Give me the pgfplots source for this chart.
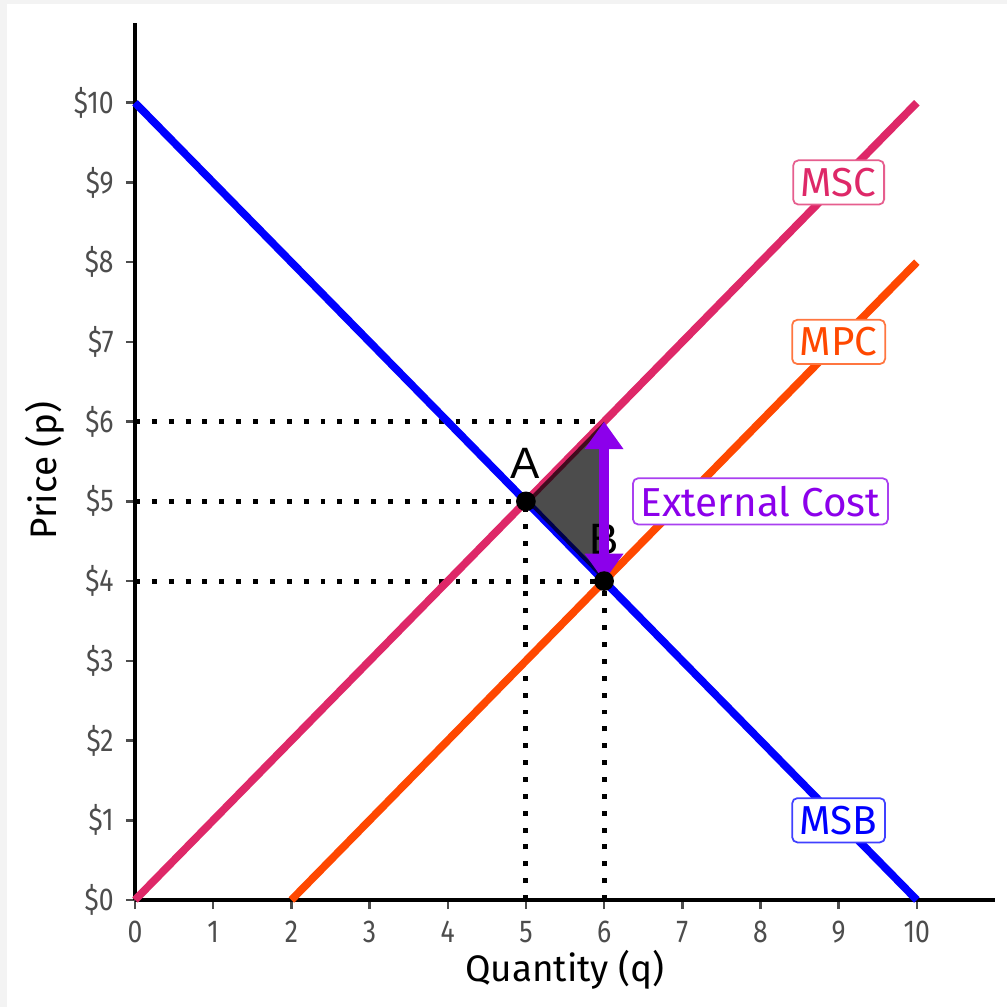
\documentclass[border=0pt]{standalone}
\usepackage{pgfplots}
\pgfplotsset{compat=1.18}
\usepackage{fontspec}
\setmainfont{Fira Sans}
\newfontfamily\condfont[FakeStretch=0.84]{Fira Sans}
\newfontfamily\labfont{Liberation Sans}
\usetikzlibrary{arrows.meta}
\definecolor{msc}{RGB}{222,40,104}
\definecolor{mpc}{RGB}{255,72,0}
\definecolor{msb}{RGB}{0,0,255}
\definecolor{ext}{RGB}{140,0,235}
\definecolor{tickgray}{RGB}{77,77,77}
\definecolor{frame}{RGB}{243,243,243}
\begin{document}
\begin{tikzpicture}
\useasboundingbox (0,0) rectangle (10.07cm,10.07cm);
\fill[frame] (0,0) rectangle (10.07cm,10.07cm);
\fill[white] (0.07cm,0) rectangle (10.07cm,10.03cm);
\begin{axis}[
  at={(1.35cm,1.07cm)}, anchor=south west,
  scale only axis, width=8.60cm, height=8.77cm,
  xmin=0, xmax=11, ymin=0, ymax=11,
  axis x line=bottom, axis y line=left,
  axis line style={-, black, line width=0.95pt},
  xtick={0,...,10}, ytick={0,...,10},
  xticklabels={0,1,2,3,4,5,6,7,8,9,10},
  yticklabels={\$0,\$1,\$2,\$3,\$4,\$5,\$6,\$7,\$8,\$9,\$10},
  tick align=outside, major tick length=0.09cm,
  tick style={tickgray, line width=0.7pt},
  every tick label/.append style={font=\condfont\fontsize{9}{10}\selectfont, text=tickgray},
  xticklabel style={yshift=0.0cm},
  yticklabel style={xshift=0.0cm},
  xlabel={Quantity (q)}, ylabel={Price (p)},
  label style={font=\fontsize{10.5}{12}\selectfont},
  xlabel style={at={(axis description cs:0.5,-0.08)}, anchor=center},
  ylabel style={at={(axis description cs:-0.105,0.49)}, anchor=center},
  clip=false,
]
% dotted guide lines
\addplot[black, line width=1.4pt, dash pattern=on 1.4pt off 3.4pt] coordinates {(0,6) (6,6)};
\addplot[black, line width=1.4pt, dash pattern=on 1.4pt off 3.4pt] coordinates {(0,5) (5,5)};
\addplot[black, line width=1.4pt, dash pattern=on 1.4pt off 3.4pt] coordinates {(0,4) (6,4)};
\addplot[black, line width=1.4pt, dash pattern=on 1.4pt off 3.4pt] coordinates {(5,0) (5,5)};
\addplot[black, line width=1.4pt, dash pattern=on 1.4pt off 3.4pt] coordinates {(6,0) (6,4)};
% curves
\addplot[msc, line width=2.2pt] coordinates {(0,0) (10,10)};
\addplot[mpc, line width=2.2pt] coordinates {(2,0) (10,8)};
\addplot[msb, line width=2.2pt] coordinates {(0,10) (10,0)};
% deadweight triangle
\addplot[fill=black, fill opacity=0.7, draw=none] coordinates {(5,5) (6,6) (6,4) (5,5)};
% points
\addplot[only marks, mark=*, mark size=2.6pt, black] coordinates {(5,5) (6,4)};
\node[font=\labfont\fontsize{12.5}{14}\selectfont] at (axis cs:4.99,5.48) {A};
\node[font=\labfont\fontsize{12.5}{14}\selectfont] at (axis cs:6,4.52) {B};
% external cost arrow
\addplot[ext, line width=2.8pt, -{Triangle[width=10.5pt,length=7.8pt]}] coordinates {(6,5) (6,6)};
\addplot[ext, line width=2.8pt, -{Triangle[width=10.5pt,length=7.8pt]}] coordinates {(6,5) (6,4)};
% labels
\node[draw=msc!75, fill=white, text=msc, rounded corners=1.5pt, line width=0.5pt, inner sep=2.2pt, font=\fontsize{11.5}{13}\selectfont] at (axis cs:9,9) {MSC};
\node[draw=mpc!75, fill=white, text=mpc, rounded corners=1.5pt, line width=0.5pt, inner sep=2.2pt, font=\fontsize{11.5}{13}\selectfont] at (axis cs:9,7) {MPC};
\node[draw=msb!75, fill=white, text=msb, rounded corners=1.5pt, line width=0.5pt, inner sep=2.2pt, font=\fontsize{11.5}{13}\selectfont] at (axis cs:9,1) {MSB};
\node[draw=ext!75, fill=white, text=ext, rounded corners=1.5pt, line width=0.5pt, inner sep=2.2pt, font=\fontsize{11.5}{13}\selectfont] at (axis cs:8,5) {External Cost};
\end{axis}
\end{tikzpicture}
\end{document}
